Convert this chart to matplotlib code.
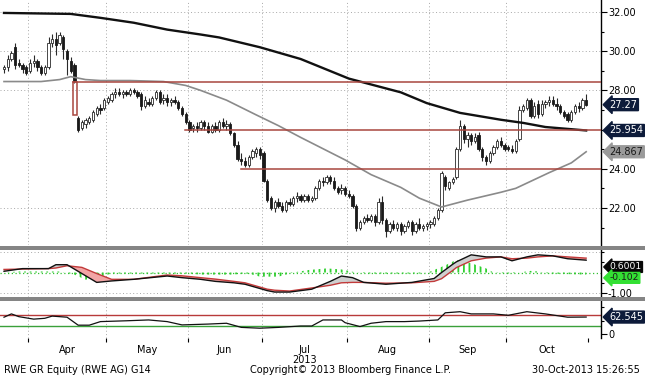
import numpy as np
import pandas as pd
import matplotlib
matplotlib.use("Agg")
import matplotlib.pyplot as plt
import matplotlib.transforms as mtrans
from matplotlib.patches import Rectangle

plt.rcParams['font.family'] = ['DejaVu Sans']
plt.rcParams['hatch.linewidth'] = 1.3

# trading days (Xetra), 20-Mar-2013 .. 30-Oct-2013
dates = pd.bdate_range('2013-03-20', '2013-10-30')
dates = dates[~dates.isin(pd.to_datetime(['2013-03-29', '2013-04-01', '2013-05-01']))]

opens = [29.1,29.2,29.6,30.2,29.4,29.3,29.2,29.0,29.4,29.5,29.2,28.9,29.2,30.4,30.6,30.4,30.7,30.0,29.5,29.3,
         26.6,26.1,26.3,26.4,26.5,26.8,27.1,27.1,27.4,27.5,27.8,27.9,27.8,27.9,27.8,28.0,27.9,27.8,27.2,27.4,
         27.3,27.6,27.9,27.5,27.6,27.4,27.5,27.4,27.1,26.8,26.4,26.1,
         26.2,26.1,26.4,26.2,25.9,26.2,26.0,26.4,26.2,26.3,25.8,25.2,24.5,24.4,24.2,24.6,24.8,25.0,24.8,23.4,
         22.5,22.0,22.3,22.1,21.9,22.3,22.2,22.5,22.6,22.4,22.6,22.4,22.5,23.0,23.4,23.3,23.6,23.4,23.0,22.9,
         23.0,22.7,22.6,22.1,21.0,21.3,21.5,21.4,21.6,21.3,22.3,21.4,20.8,21.2,21.0,21.2,20.8,21.1,21.3,20.8,
         21.2,21.0,21.1,21.2,21.2,21.5,21.9,23.6,23.0,23.3,23.6,25.0,26.2,25.5,25.7,25.4,25.7,25.0,24.6,24.4,
         24.8,25.1,25.4,25.2,25.1,25.0,24.9,25.5,27.0,27.1,27.5,26.7,27.3,26.8,27.3,27.4,27.5,27.3,27.2,26.9,
         26.8,26.5,26.9,27.2,27.1,27.5]
highs = [29.3,29.8,30.0,30.4,29.6,29.4,29.3,29.6,29.8,29.6,29.3,29.3,30.7,30.9,31.0,31.0,30.8,30.1,29.7,29.4,
         26.7,26.5,26.6,26.7,27.0,27.2,27.3,27.6,27.7,27.9,28.1,28.1,28.0,28.0,28.1,28.1,28.0,27.9,27.7,27.6,
         27.7,28.0,28.0,27.8,27.8,27.6,27.7,27.5,27.2,26.9,26.5,26.3,
         26.4,26.5,26.5,26.4,26.3,26.4,26.5,26.6,26.5,26.4,25.9,25.4,24.8,24.6,24.7,25.0,25.1,25.1,24.9,23.5,
         22.6,22.4,22.5,22.3,22.4,22.5,22.6,22.8,22.7,22.7,22.7,22.6,23.1,23.5,23.6,23.7,23.7,23.6,23.1,23.2,
         23.1,22.9,22.7,22.2,21.4,21.6,21.7,21.7,21.7,22.5,22.6,21.5,21.3,21.4,21.3,21.3,21.2,21.4,21.4,21.3,
         21.5,21.2,21.3,21.4,21.6,22.0,23.9,23.7,23.4,23.6,25.1,26.5,26.3,25.9,25.8,25.8,25.9,25.1,24.7,24.9,
         25.2,25.5,25.6,25.3,25.2,25.2,25.5,27.2,27.3,27.6,27.6,27.4,27.5,27.5,27.5,27.7,27.7,27.6,27.3,27.0,
         26.9,27.0,27.3,27.4,27.6,27.8]
lows = [28.9,29.0,29.5,29.1,29.2,28.9,28.8,28.9,29.2,29.0,28.8,28.8,29.1,30.2,29.8,30.3,29.6,28.8,28.9,28.4,
        25.9,26.0,26.1,26.3,26.4,26.7,26.8,27.0,27.3,27.4,27.6,27.7,27.6,27.7,27.7,27.8,27.6,27.0,27.1,27.2,
        27.2,27.5,27.3,27.3,27.2,27.2,27.3,27.0,26.7,26.3,25.9,25.9,
        25.9,26.0,26.0,25.8,25.8,25.9,25.9,26.1,26.0,25.7,25.1,24.4,24.2,24.1,24.1,24.5,24.6,24.5,23.3,22.3,
        21.9,21.8,22.0,21.8,21.8,22.1,22.1,22.3,22.3,22.3,22.3,22.3,22.4,22.9,23.1,23.2,23.2,22.9,22.7,22.7,
        22.6,22.5,22.0,20.8,20.9,21.2,21.3,21.3,21.1,21.2,21.2,20.5,20.7,20.9,20.8,20.6,20.7,21.0,20.6,20.7,
        20.9,20.8,20.9,21.0,21.1,21.4,21.8,22.9,22.9,23.2,23.5,24.9,25.3,25.1,25.2,25.3,24.9,24.4,24.2,24.3,
        24.7,25.0,25.1,24.9,24.9,24.8,24.8,25.4,26.9,27.0,26.6,26.6,26.6,26.7,27.1,27.2,27.2,27.0,26.8,26.6,
        26.4,26.4,26.8,26.9,27.0,27.2]
closes = [29.2,29.6,29.9,29.3,29.3,29.1,28.9,29.4,29.5,29.2,28.9,29.2,30.4,30.6,30.3,30.8,30.1,29.6,29.0,28.5,
          26.0,26.4,26.5,26.6,26.9,27.1,27.0,27.5,27.6,27.8,27.9,27.8,27.9,27.8,28.0,27.9,27.7,27.2,27.5,27.3,
          27.6,27.9,27.4,27.6,27.4,27.5,27.4,27.1,26.8,26.4,26.0,26.2,
          26.1,26.4,26.2,25.9,26.2,26.0,26.4,26.2,26.3,25.8,25.2,24.5,24.4,24.2,24.6,24.9,25.0,24.7,23.4,22.4,
          22.0,22.3,22.1,21.9,22.3,22.2,22.5,22.6,22.4,22.6,22.4,22.5,23.0,23.4,23.3,23.6,23.4,23.0,22.8,23.0,
          22.7,22.6,22.1,21.0,21.3,21.5,21.4,21.6,21.3,22.3,21.4,20.8,21.2,21.0,21.2,20.8,21.1,21.3,20.8,21.2,
          21.0,21.1,21.2,21.3,21.5,21.9,23.8,23.1,23.3,23.5,25.0,26.2,25.5,25.7,25.4,25.6,25.0,24.6,24.4,24.8,
          25.1,25.4,25.2,25.0,25.0,24.9,25.4,27.0,27.2,27.5,26.7,27.2,26.8,27.3,27.4,27.5,27.3,27.2,26.9,26.7,
          26.5,26.9,27.2,27.1,27.5,27.27]

# moving averages (candle index, value)
ma200_idx = [0, 18, 26, 35, 44, 53, 58, 69, 80, 93, 107, 114, 123, 134, 140, 146, 157]
ma200 = [31.95, 31.9, 31.7, 31.45, 31.1, 30.85, 30.7, 30.2, 29.6, 28.6, 27.9, 27.35, 26.85, 26.5, 26.34, 26.13, 25.954]
ma50_idx = [0, 10, 15, 18, 22, 26, 34, 43, 49, 53, 60, 68, 74, 80, 92, 99, 107, 112, 118, 125, 134, 138, 147, 153, 157]
ma50 = [28.45, 28.45, 28.55, 28.7, 28.55, 28.5, 28.5, 28.45, 28.25, 28.0, 27.5, 26.75, 26.2, 25.6, 24.45, 23.7,
        23.05, 22.5, 22.05, 22.4, 22.8, 23.0, 23.8, 24.3, 24.867]

# trend lines: (level, start index)
levels = [(28.45, 18.6), (25.954, 48.8), (24.0, 63.9)]

# MACD panel
macd_idx = [0, 5, 12, 14, 17, 21, 25, 29, 35, 44, 48, 53, 57, 62, 65, 71, 73, 77, 83, 88, 91, 94, 97, 103,
            110, 116, 118, 121, 122, 126, 130, 134, 137, 141, 144, 148, 152, 157]
macd = [0.06, 0.19, 0.19, 0.38, 0.38, -0.05, -0.48, -0.41, -0.33, -0.17, -0.25, -0.33, -0.43, -0.5, -0.57,
        -0.88, -0.95, -0.95, -0.81, -0.43, -0.17, -0.25, -0.48, -0.57, -0.48, -0.29, 0.0, 0.4, 0.52, 0.86,
        0.76, 0.76, 0.57, 0.76, 0.86, 0.81, 0.67, 0.6001]
signal = [0.15, 0.17, 0.19, 0.22, 0.33, 0.25, -0.05, -0.33, -0.33, -0.12, -0.16, -0.25, -0.32, -0.43, -0.5,
          -0.81, -0.86, -0.9, -0.75, -0.62, -0.5, -0.48, -0.48, -0.52, -0.5, -0.43, -0.3, 0.1, 0.24, 0.57,
          0.7, 0.76, 0.67, 0.7, 0.76, 0.81, 0.76, 0.70]
hist_idx = [0, 4, 15, 19, 22, 26, 29, 50, 53, 61, 66, 69, 74, 78, 82, 87, 91, 95, 99, 112, 115, 119, 122,
            126, 130, 132, 136, 139, 142, 144, 147, 157]
hist = [0.0, 0.05, 0.05, -0.1, -0.35, -0.2, -0.05, -0.05, -0.1, -0.1, -0.05, -0.2, -0.2, 0.0, 0.12, 0.2,
        0.15, 0.0, -0.05, -0.05, 0.05, 0.35, 0.62, 0.45, 0.2, 0.0, -0.05, 0.0, 0.08, 0.05, -0.05, -0.102]

# RSI panel
rsi_idx = [0, 2, 4, 8, 11, 13, 17, 20, 23, 26, 33, 39, 44, 48, 55, 60, 64, 69, 74, 80, 83, 86, 91, 92, 96,
           99, 103, 108, 112, 117, 119, 123, 126, 132, 136, 141, 146, 152, 157]
rsi = [62, 74, 64, 55, 58, 66, 62, 33, 33, 46, 49, 52, 46, 34, 37, 40, 25, 22, 25, 30, 30, 52, 52, 42, 28,
       40, 46, 46, 48, 52, 78, 82, 74, 74, 69, 82, 74, 62, 62.545]

W, H = 645, 376
fig = plt.figure(figsize=(W / 100, H / 100), dpi=100)
fig.patch.set_facecolor('white')

def box(top, bottom):
    return [0, 1 - bottom / H, 601 / W, (bottom - top) / H]

ax1 = fig.add_axes(box(0, 245))
ax2 = fig.add_axes(box(250, 297))
ax3 = fig.add_axes(box(301, 338))

n = len(closes)
x = np.arange(n)
month_first = [np.argmax(dates.month == m) for m in range(4, 11)]
bounds = [f - 0.5 for f in month_first] + [n - 0.5]
centers = [(bounds[k] + bounds[k + 1]) / 2 for k in range(len(bounds) - 1)]
mnames = ['Apr', 'May', 'Jun', 'Jul\n2013', 'Aug', 'Sep', 'Oct']

grid_kw = dict(color='#a8a8a8', lw=0.7, ls=(0, (1, 2.5)), zorder=0)
for ax in (ax1, ax2, ax3):
    ax.set_xlim(-1.08, 161.0)
    for s in ('top', 'left', 'bottom'):
        ax.spines[s].set_visible(False)
    ax.spines['right'].set_linewidth(1.0)
    ax.yaxis.tick_right()
    ax.tick_params(axis='y', which='both', direction='out', length=4, width=0.8, labelsize=7, pad=1)
    ax.tick_params(axis='y', which='minor', length=2.5)
    ax.tick_params(axis='x', which='both', length=0, labelbottom=False)
    for b in bounds[:-1]:
        ax.axvline(b, **grid_kw)

# candles
o, h, l, c = map(np.array, (opens, highs, lows, closes))
up = c >= o
ax1.vlines(x, l, h, color='#2a2a2a', lw=0.8, zorder=3)
body_lo = np.minimum(o, c)
body_h = np.maximum(np.abs(c - o), 0.04)
ax1.bar(x[up], body_h[up], bottom=body_lo[up], width=0.62, color='white', edgecolor='#2a2a2a', lw=0.6, zorder=4)
ax1.bar(x[~up], body_h[~up], bottom=body_lo[~up], width=0.62, color='#1a1a1a', edgecolor='#1a1a1a', lw=0.6, zorder=4)

ax1.plot(ma200_idx, ma200, color='#111111', lw=1.7, zorder=5)
ax1.plot(ma50_idx, ma50, color='#8a8a8a', lw=1.2, zorder=5)

red = '#a8463f'
for lev, start in levels:
    ax1.plot([start, 161], [lev, lev], color=red, lw=1.1, zorder=6)
ax1.add_patch(Rectangle((18.6, 26.75), 1.15, 28.45 - 26.75, fill=False, edgecolor=red, lw=1.1, zorder=6))

ax1.set_ylim(20.11, 32.61)
ax1.set_yticks([22, 24, 26, 28, 30, 32])
ax1.set_yticklabels(['22.00', '24.00', '', '28.00', '30.00', '32.00'])
ax1.set_yticks(np.arange(21, 33, 2), minor=True)
for v in [22, 28, 30, 32]:
    ax1.axhline(v, **grid_kw)

def badge(ax, yval, txt, fc, tc, size=7):
    tr = mtrans.blended_transform_factory(ax.transAxes, ax.transData)
    ax.text(1.014, yval, txt, transform=tr, fontsize=size, color=tc, va='center', ha='left',
            clip_on=False, zorder=10,
            bbox=dict(boxstyle='larrow,pad=0.1', fc=fc, ec=fc))

badge(ax1, closes[-1], '27.27', '#0d1b3a', 'white')
badge(ax1, 25.954, '25.954', '#0d1b3a', 'white')
badge(ax1, ma50[-1], '24.867', '#9a9a9a', '#1a1a1a')

# MACD
ma = np.array(macd)
sg = np.array(signal)
ax2.fill_between(macd_idx, ma, sg, where=ma >= sg, interpolate=True, color='#cfcfcf', lw=0, zorder=2)
ax2.fill_between(macd_idx, ma, sg, where=ma < sg, interpolate=True, color='#f2a5a5', lw=0, zorder=2)
ax2.fill_between(hist_idx, 0, hist, facecolor='none', edgecolor='#2fd02f', hatch='|||', lw=0, zorder=1)
ax2.axhline(0, color='#33c033', lw=0.9, ls=(0, (1, 2)), zorder=1)
ax2.plot(macd_idx, macd, color='#111111', lw=1.0, zorder=4)
ax2.plot(macd_idx, signal, color='#c23a3a', lw=1.0, zorder=3)
ax2.set_ylim(-1.19, 1.095)
ax2.set_yticks([-1.0])
ax2.set_yticklabels(['-1.00'])
ax2.set_yticks([-0.5, 0.5, 1.0], minor=True)
for v in [-1.0, 1.0]:
    ax2.axhline(v, **grid_kw)
badge(ax2, 0.27, '0.6001', '#080808', 'white', 6.6)
badge(ax2, -0.26, '-0.102', '#33e033', '#1a1a1a', 6.6)

# RSI
ax3.axhline(70, color='#b83a3a', lw=1.0, zorder=2)
ax3.axhline(30, color='#3aa03a', lw=1.0, zorder=2)
ax3.plot(rsi_idx, rsi, color='#111111', lw=0.9, zorder=3)
ax3.set_ylim(-13.6, 120.9)
ax3.set_yticks([0])
ax3.set_yticklabels(['0'])
ax3.set_yticks([50, 100], minor=True)
ax3.axhline(-13.0, **grid_kw)
badge(ax3, rsi[-1], '62.545', '#0d1b3a', 'white')

ax3.set_xticks(bounds, minor=True)
ax3.tick_params(axis='x', which='minor', length=3, width=0.8, direction='out')
ax3.set_xticks(centers)
ax3.set_xticklabels(mnames, fontsize=7, linespacing=0.95)
ax3.tick_params(axis='x', which='major', length=0, labelbottom=True, pad=5)

# separators
for top in (246, 297):
    fig.add_artist(Rectangle((0, 1 - (top + 4) / H), 1, 4 / H, transform=fig.transFigure,
                             color='#858585', lw=0))

fy = 1 - 370 / H
fig.text(4 / W, fy, 'RWE GR Equity (RWE AG) G14', fontsize=7, va='center', ha='left')
fig.text(250 / W, fy, 'Copyright\u00a9 2013 Bloomberg Finance L.P.', fontsize=7, va='center', ha='left')
fig.text(640 / W, fy, '30-Oct-2013 15:26:55', fontsize=7, va='center', ha='right')

fig.savefig('out.png', dpi=100, facecolor='white')
